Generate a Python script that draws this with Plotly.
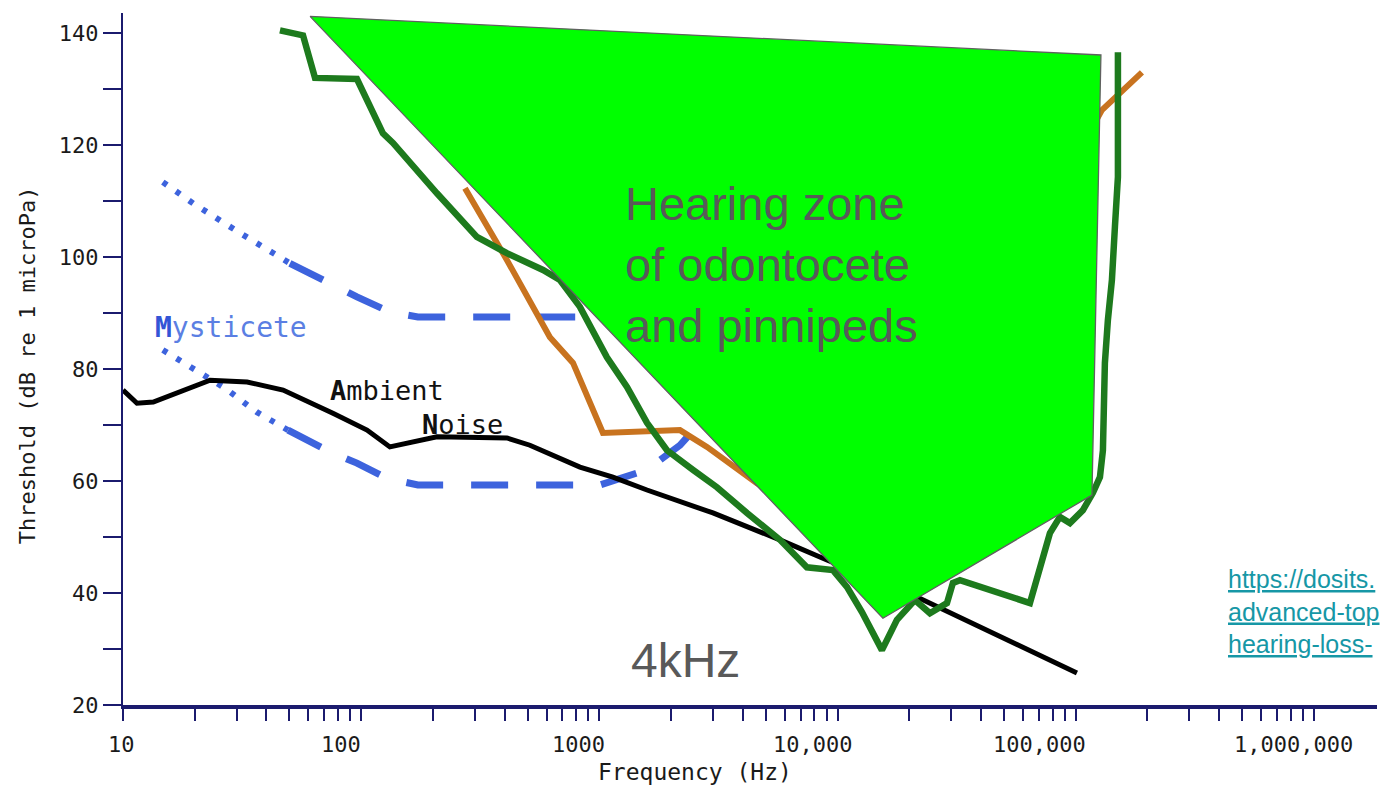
import math
import plotly.graph_objects as go

# ---------------- data ----------------
# Odontocete audiogram (dark green)
green_f = [45.6, 57.0, 64.0, 96.0, 123.4, 136, 208, 306, 409, 580, 683, 829, 1076, 1306,
           1585, 1922, 2472, 3116, 4167, 5732, 7437, 9565, 10950, 12660, 15360, 17760,
           21130, 24430, 28800, 30510, 32660, 64220, 77950, 85840, 94560, 107200, 118100,
           126400, 130100, 132600, 136500, 141900, 146100, 150400, 150400]
green_db = [140.5, 139.6, 132.0, 131.8, 122.1, 120.4, 111.4, 103.6, 100.7, 97.7, 95.9, 91.1,
            82.1, 76.8, 70.4, 65.5, 62.0, 58.9, 54.3, 49.5, 44.6, 44.1, 41.1, 36.6, 29.8,
            35.2, 38.75, 36.4, 38.2, 41.8, 42.3, 38.2, 50.7, 53.6, 52.5, 54.8, 57.9, 60.7,
            65.5, 81.1, 88.75, 95.9, 105.4, 114.3, 136.6]

# Pinniped audiogram (orange)
orange_f = [272.8, 409, 620, 775, 1035, 2180, 2830, 4587, 11270, 48070, 104100, 128800, 189700]
orange_db = [112.3, 99.5, 85.7, 81.1, 68.6, 69.1, 66.1, 59.6, 49.5, 60.2, 119.1, 126.25, 133.0]

# Ambient noise (black)
amb_f = [10, 11.45, 13.4, 17.9, 23.2, 33.2, 47.0, 76.1, 105.8, 132, 176.6, 208, 409, 511,
         829, 1140, 1585, 2999, 5732, 9027, 21550, 101200]
amb_db = [76.25, 73.9, 74.1, 76.25, 78.0, 77.7, 76.25, 72.1, 69.1, 66.1, 67.3, 67.9, 67.7,
          66.4, 62.5, 60.7, 58.4, 54.3, 49.5, 45.9, 39.3, 25.7]

# Mysticete bounds (blue): dotted low-frequency part + dashed part
myst_hi_dot_f = [14.7, 19.7, 31.0, 50.2]
myst_hi_dot_db = [113.4, 109.6, 104.3, 98.9]
myst_hi_dash_f = [50.2, 71.9, 96.0, 132, 173, 1006, 2000]
myst_hi_dash_db = [98.9, 95.4, 92.9, 90.2, 89.3, 89.3, 89.3]

myst_lo_dot_f = [14.7, 20.1, 26.8, 36.5, 49.3]
myst_lo_dot_db = [83.4, 79.8, 76.6, 72.3, 69.1]
myst_lo_dash_f = [49.3, 74.0, 96.0, 128.3, 173, 1006, 1585, 2180, 2644, 3500]
myst_lo_dash_db = [69.1, 65.2, 63.2, 60.5, 59.3, 59.3, 62.0, 66.4, 70.4, 75.0]

# Hearing zone polygon (green fill)
zone_f = [61.0, 127600, 117000, 15510, 61.0]
zone_db = [143.0, 136.1, 57.5, 35.5, 143.0]

# Axis ticks
x_label_vals = [10, 100, 1000, 10000, 100000, 1000000]
x_label_text = ["10", "100", "1000", "10,000", "100,000", "1,000,000"]
x_label_shift = [-2, -20, -21, -25, -36, -20]
x_minor_vals = [k * 10 ** n for n in range(1, 7) for k in range(1, 10) if k * 10 ** n < 1.8e6]
y_tick_vals = list(range(20, 141, 10))
y_tick_text = [str(v) if v % 20 == 0 else "" for v in y_tick_vals]

# ---------------- styling ----------------
NAVY = "#1b1b6e"
BLUE = "#3d63dd"
MONO = "DejaVu Sans Mono"
SANS = "Liberation Sans, Arial, sans-serif"

fig = go.Figure()

for fx, fy in [(myst_hi_dot_f, myst_hi_dot_db), (myst_lo_dot_f, myst_lo_dot_db)]:
    fig.add_trace(go.Scatter(x=fx, y=fy, mode="lines",
                             line=dict(color=BLUE, width=6, dash="5px,11px")))
for fx, fy in [(myst_hi_dash_f, myst_hi_dash_db), (myst_lo_dash_f, myst_lo_dash_db)]:
    fig.add_trace(go.Scatter(x=fx, y=fy, mode="lines",
                             line=dict(color=BLUE, width=7, dash="37px,28px")))

fig.add_trace(go.Scatter(x=amb_f, y=amb_db, mode="lines",
                         line=dict(color="#000000", width=5)))
fig.add_trace(go.Scatter(x=orange_f, y=orange_db, mode="lines",
                         line=dict(color="#c8731f", width=6)))
fig.add_trace(go.Scatter(x=green_f, y=green_db, mode="lines",
                         line=dict(color="#1d7a1d", width=6.5)))
fig.add_trace(go.Scatter(x=zone_f, y=zone_db, mode="lines", fill="toself",
                         fillcolor="#00ff00", line=dict(color="#606060", width=1.3)))

annotations = []
for v, t, s in zip(x_label_vals, x_label_text, x_label_shift):
    annotations.append(dict(x=math.log10(v), y=-0.057, xref="x", yref="paper", text=t,
                            showarrow=False, xanchor="center", yanchor="middle", xshift=s,
                            font=dict(family=MONO, size=22, color="#1a1a1a")))

annotations += [
    dict(x=0.456, y=-0.097, xref="paper", yref="paper", text="Frequency (Hz)",
         showarrow=False, xanchor="center", yanchor="middle",
         font=dict(family=MONO, size=23, color="#1a1a1a")),
    dict(x=-0.0766, y=0.491, xref="paper", yref="paper", text="Threshold (dB re 1 microPa)",
         showarrow=False, textangle=-90, xanchor="center", yanchor="middle",
         font=dict(family=MONO, size=22, color="#1a1a1a")),
    dict(x=0.0239, y=0.546, xref="paper", yref="paper",
         text="<b><span style='color:#3355d6'>M</span></b>ysticete",
         showarrow=False, xanchor="left", yanchor="middle",
         font=dict(family=MONO, size=28, color="#5b7fe3")),
    dict(x=0.1635, y=0.455, xref="paper", yref="paper", text="<b>A</b>mbient",
         showarrow=False, xanchor="left", yanchor="middle",
         font=dict(family=MONO, size=27, color="#111111")),
    dict(x=0.2368, y=0.405, xref="paper", yref="paper", text="<b>N</b>oise",
         showarrow=False, xanchor="left", yanchor="middle",
         font=dict(family=MONO, size=27, color="#111111")),
    dict(x=0.399, y=0.637, xref="paper", yref="paper",
         text="Hearing zone<br>of odontocete<br>and pinnipeds",
         showarrow=False, xanchor="left", yanchor="middle", align="left",
         font=dict(family=SANS, size=47, color="#595959")),
    dict(x=0.4035, y=0.065, xref="paper", yref="paper", text="4kHz",
         showarrow=False, xanchor="left", yanchor="middle",
         font=dict(family=SANS, size=48, color="#595959")),
    dict(x=0.8795, y=0.1344, xref="paper", yref="paper",
         text="https://dosits.<br>advanced-top<br>hearing-loss-",
         showarrow=False, xanchor="left", yanchor="middle", align="left",
         font=dict(family=SANS, size=25, color="#1697a6", lineposition="under")),
]

fig.update_layout(
    width=1383, height=790, autosize=False,
    margin=dict(l=123, r=6, t=13, b=85),
    paper_bgcolor="white", plot_bgcolor="white",
    showlegend=False,
    annotations=annotations,
    xaxis=dict(type="log", range=[1, 6.265], showgrid=False, zeroline=False,
               showline=True, linecolor=NAVY, linewidth=4,
               tickmode="array", tickvals=x_minor_vals, ticks="outside",
               ticklen=12, tickwidth=2, tickcolor=NAVY, showticklabels=False),
    yaxis=dict(range=[20, 143.6], showgrid=False, zeroline=False,
               showline=True, linecolor=NAVY, linewidth=2,
               tickmode="array", tickvals=y_tick_vals, ticktext=y_tick_text,
               ticks="outside", ticklen=18, tickwidth=2, tickcolor=NAVY,
               tickfont=dict(family=MONO, size=22, color="#1a1a1a")),
)

fig.write_html("out.html", config={"displayModeBar": False},
               post_script="document.body.style.margin='0';document.body.style.overflow='hidden';")
